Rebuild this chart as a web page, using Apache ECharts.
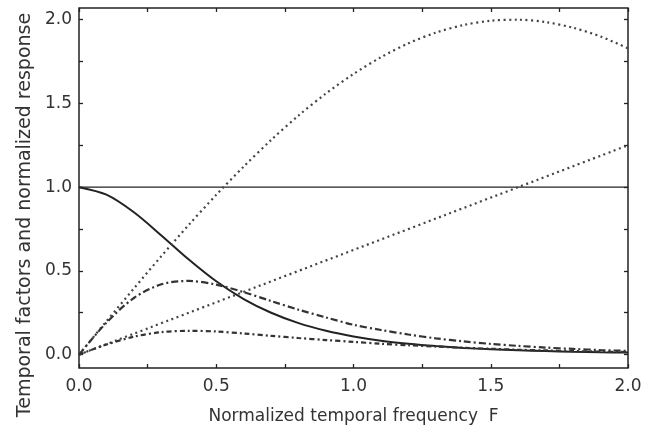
<!DOCTYPE html>
<html>
<head>
<meta charset="utf-8">
<script src="https://cdn.jsdelivr.net/npm/echarts@6/dist/echarts.min.js"></script>
<style>
  html, body { margin: 0; padding: 0; background: #fff; }
  #chart { width: 656px; height: 433px; }
</style>
</head>
<body>
<div id="chart"></div>
<script>
// normalized temporal frequency F
const freq = [0, 0.1, 0.2, 0.3, 0.4, 0.5, 0.6, 0.7, 0.8, 0.9, 1.0,
  1.1, 1.2, 1.3, 1.4, 1.5, 1.6, 1.7, 1.8, 1.9, 2.0]

// solid falling curve
const response = [1.0, 0.955, 0.85, 0.712, 0.568, 0.438, 0.332, 0.25, 0.188, 0.142, 0.108,
  0.083, 0.065, 0.051, 0.040, 0.032, 0.026, 0.021, 0.017, 0.014, 0.012]
// dotted arch
const archFactor = [0, 0.199, 0.395, 0.588, 0.775, 0.954, 1.123, 1.282, 1.428, 1.56, 1.676,
  1.776, 1.859, 1.923, 1.968, 1.994, 2.0, 1.986, 1.952, 1.9, 1.829]
// upper dash-dot curve
const archProduct = [0, 0.191, 0.338, 0.42, 0.44, 0.418, 0.373, 0.32, 0.268, 0.222, 0.178,
  0.147, 0.12, 0.097, 0.079, 0.064, 0.052, 0.042, 0.034, 0.027, 0.022]
// lower dash-dot curve
const rampProduct = [0, 0.06, 0.107, 0.134, 0.142, 0.138, 0.126, 0.112, 0.099, 0.087, 0.076,
  0.065, 0.056, 0.048, 0.041, 0.035, 0.029, 0.025, 0.021, 0.018, 0.015]

// straight dotted line and unity level
const rampF = [0, 2.0]
const rampFactor = [0, 1.25]
const unityF = [0, 2.0]
const unityValue = [1.0, 1.0]

const xLabels = [0, 0.5, 1.0, 1.5, 2.0]
const xTicks = [0, 0.25, 0.5, 0.75, 1.0, 1.25, 1.5, 1.75, 2.0]
const yLabels = [0, 0.5, 1.0, 1.5, 2.0]
const yTicks = [0, 0.25, 0.5, 0.75, 1.0, 1.25, 1.5, 1.75, 2.0]

const pairs = (xs, ys) => xs.map((x, i) => [x, ys[i]])

const font = 'DejaVu Sans'
const ink = '#222'

const tick = { show: true, inside: true, length: 4, lineStyle: { color: ink, width: 1.3 } }

function xAxisDef(pos, labels) {
  return {
    type: 'value', position: pos, min: 0, max: 2.0,
    splitLine: { show: false }, axisLine: { show: false, onZero: false },
    axisTick: Object.assign({ customValues: xTicks }, tick),
    axisLabel: {
      show: labels, customValues: xLabels, margin: 10,
      fontFamily: font, fontSize: 17, color: '#333',
      formatter: v => v.toFixed(1)
    }
  }
}

function yAxisDef(pos, labels) {
  return {
    type: 'value', position: pos, min: -0.08, max: 2.07,
    splitLine: { show: false }, axisLine: { show: false, onZero: false },
    axisTick: Object.assign({ customValues: yTicks }, tick),
    axisLabel: {
      show: labels, customValues: yLabels, margin: 7,
      fontFamily: font, fontSize: 17, color: '#333',
      formatter: v => v.toFixed(1)
    }
  }
}

const xBottom = xAxisDef('bottom', true)
xBottom.name = 'Normalized temporal frequency  F'
xBottom.nameLocation = 'middle'
xBottom.nameGap = 40
xBottom.nameTextStyle = { fontFamily: font, fontSize: 17, color: '#333' }

const yLeft = yAxisDef('left', true)
yLeft.name = 'Temporal factors and normalized response'
yLeft.nameLocation = 'middle'
yLeft.nameGap = 39
yLeft.nameTextStyle = { fontFamily: font, fontSize: 19, color: '#333', padding: [0, 54, 0, 0] }

function line(data, style, width, color) {
  return {
    type: 'line', data: data, showSymbol: false, smooth: 0.3,
    xAxisIndex: 0, yAxisIndex: 0, silent: true,
    lineStyle: { color: color, width: width, type: style }
  }
}

const chart = echarts.init(document.getElementById('chart'))
chart.setOption({
  animation: false,
  backgroundColor: '#fff',
  grid: {
    left: 79, right: 28, top: 8, bottom: 65,
    containLabel: false, outerBoundsMode: 'none',
    show: true, borderColor: ink, borderWidth: 1.5
  },
  xAxis: [xBottom, xAxisDef('top', false)],
  yAxis: [yLeft, yAxisDef('right', false)],
  series: [
    line(pairs(unityF, unityValue), 'solid', 1.4, ink),
    line(pairs(freq, response), 'solid', 2, ink),
    line(pairs(freq, archFactor), [2, 3.5], 2.2, '#444'),
    line(pairs(rampF, rampFactor), [2, 3.5], 2.2, '#444'),
    line(pairs(freq, archProduct), [7, 3, 2, 3], 2.2, '#333'),
    line(pairs(freq, rampProduct), [5, 3, 2, 3], 2.2, '#333')
  ]
})
</script>
</body>
</html>
